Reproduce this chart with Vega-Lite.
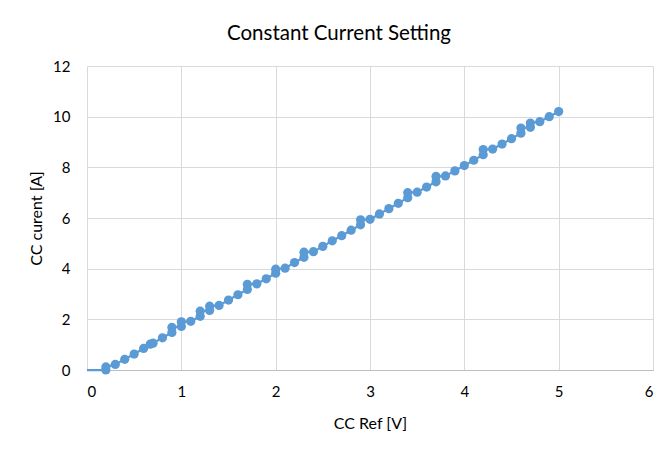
{
  "$schema": "https://vega.github.io/schema/vega-lite/v6.json",
  "width": 566,
  "height": 304,
  "autosize": "none",
  "padding": {"left": 87, "top": 66, "right": 13, "bottom": 80},
  "background": "white",
  "title": {"text": "Constant Current Setting", "font": "Lato", "fontSize": 20.5, "fontWeight": "normal", "color": "#000000", "anchor": "middle", "dx": -31, "offset": 15},
  "config": {"view": {"stroke": null}},
  "data": {"values": [
    {"x": 0, "y": 0},
    {"x": 0.2, "y": 0.0}, {"x": 0.2, "y": 0.12},
    {"x": 0.3, "y": 0.22},
    {"x": 0.4, "y": 0.42},
    {"x": 0.5, "y": 0.63},
    {"x": 0.6, "y": 0.85},
    {"x": 0.67, "y": 1.02}, {"x": 0.7, "y": 1.06},
    {"x": 0.8, "y": 1.27},
    {"x": 0.9, "y": 1.48}, {"x": 0.9, "y": 1.68},
    {"x": 1.0, "y": 1.72}, {"x": 1.0, "y": 1.9},
    {"x": 1.1, "y": 1.92},
    {"x": 1.2, "y": 2.12}, {"x": 1.2, "y": 2.32},
    {"x": 1.3, "y": 2.35}, {"x": 1.3, "y": 2.52},
    {"x": 1.4, "y": 2.55},
    {"x": 1.5, "y": 2.76},
    {"x": 1.6, "y": 2.97},
    {"x": 1.7, "y": 3.18}, {"x": 1.7, "y": 3.38},
    {"x": 1.8, "y": 3.4},
    {"x": 1.9, "y": 3.6},
    {"x": 2.0, "y": 3.82}, {"x": 2.0, "y": 3.98},
    {"x": 2.1, "y": 4.02},
    {"x": 2.2, "y": 4.24},
    {"x": 2.3, "y": 4.45}, {"x": 2.3, "y": 4.65},
    {"x": 2.4, "y": 4.67},
    {"x": 2.5, "y": 4.88},
    {"x": 2.6, "y": 5.1},
    {"x": 2.7, "y": 5.3},
    {"x": 2.8, "y": 5.52},
    {"x": 2.9, "y": 5.73}, {"x": 2.9, "y": 5.93},
    {"x": 3.0, "y": 5.95},
    {"x": 3.1, "y": 6.16},
    {"x": 3.2, "y": 6.37},
    {"x": 3.3, "y": 6.58},
    {"x": 3.4, "y": 6.8}, {"x": 3.4, "y": 7.0},
    {"x": 3.5, "y": 7.02},
    {"x": 3.6, "y": 7.22},
    {"x": 3.7, "y": 7.43}, {"x": 3.7, "y": 7.64},
    {"x": 3.8, "y": 7.66},
    {"x": 3.9, "y": 7.86},
    {"x": 4.0, "y": 8.07},
    {"x": 4.1, "y": 8.28},
    {"x": 4.2, "y": 8.5}, {"x": 4.2, "y": 8.7},
    {"x": 4.3, "y": 8.72},
    {"x": 4.4, "y": 8.92},
    {"x": 4.5, "y": 9.13},
    {"x": 4.6, "y": 9.35}, {"x": 4.6, "y": 9.55},
    {"x": 4.7, "y": 9.58}, {"x": 4.7, "y": 9.75},
    {"x": 4.8, "y": 9.8},
    {"x": 4.9, "y": 10.0},
    {"x": 5.0, "y": 10.2}
  ]},
  "encoding": {
    "x": {"field": "x", "type": "quantitative", "scale": {"domain": [0, 6], "nice": false},
      "axis": {"title": "CC Ref [V]", "values": [0,1,2,3,4,5,6], "grid": true, "gridColor": "#d9d9d9", "domainColor": "#bfbfbf", "ticks": false, "labelFont": "Lato", "labelFontSize": 15, "labelColor": "#000000", "labelPadding": 14, "titleFont": "Lato", "titleFontSize": 16, "titleFontWeight": "normal", "titleColor": "#000000", "titlePadding": 16}},
    "y": {"field": "y", "type": "quantitative", "scale": {"domain": [0, 12], "nice": false},
      "axis": {"title": "CC curent [A]", "values": [0,2,4,6,8,10,12], "grid": true, "gridColor": "#d9d9d9", "domain": false, "ticks": false, "labelFont": "Lato", "labelFontSize": 15, "labelColor": "#000000", "labelPadding": 17, "titleFont": "Lato", "titleFontSize": 16, "titleFontWeight": "normal", "titleColor": "#000000", "titlePadding": 8}}
  },
  "layer": [
    {"mark": {"type": "line", "color": "#5b9bd5", "strokeWidth": 2.25}, "encoding": {"order": {"field": "y", "type": "quantitative"}}},
    {"transform": [{"filter": "datum.x > 0"}], "mark": {"type": "circle", "color": "#5b9bd5", "opacity": 1, "size": 85}}
  ]
}
